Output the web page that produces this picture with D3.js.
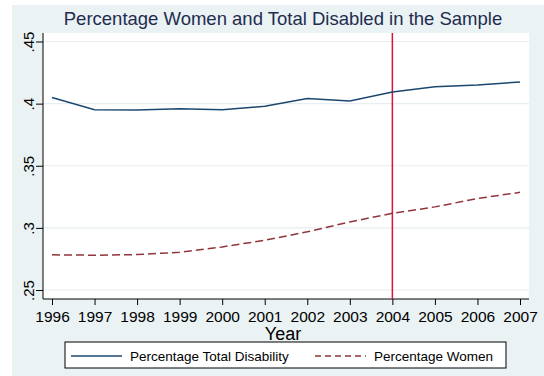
<!DOCTYPE html>
<html>
<head>
<meta charset="utf-8">
<script src="https://cdn.jsdelivr.net/npm/d3@7"></script>
<style>
  body { margin: 0; background: #fff; }
  text { font-family: "Liberation Sans", Arial, sans-serif; }
</style>
</head>
<body>
<div id="chart"></div>
<script>
// data
var years = [1996, 1997, 1998, 1999, 2000, 2001, 2002, 2003, 2004, 2005, 2006, 2007];
var totalDisability = [0.405, 0.395, 0.3949, 0.3959, 0.395, 0.3978, 0.4042, 0.4021, 0.4093, 0.4136, 0.415, 0.4174];
var women = [0.2783, 0.278, 0.2785, 0.2804, 0.2847, 0.29, 0.2968, 0.3048, 0.3117, 0.3169, 0.3236, 0.3286];
var yTicks = [0.25, 0.3, 0.35, 0.4, 0.45];
var yTickLabels = [".25", ".3", ".35", ".4", ".45"];
var markYear = 2004;

var svgWidth = 544;
var svgHeight = 376;

var plot = { left: 43, right: 529, top: 33, bottom: 299 };

var svg = d3.select("#chart")
  .append("svg")
  .attr("width", svgWidth)
  .attr("height", svgHeight);

// graph region background
svg.append("rect")
  .attr("x", 12).attr("y", 5)
  .attr("width", svgWidth - 12).attr("height", svgHeight - 5)
  .attr("fill", "#eaf2f3");

// plot region
svg.append("rect")
  .attr("x", plot.left).attr("y", plot.top)
  .attr("width", plot.right - plot.left).attr("height", plot.bottom - plot.top)
  .attr("fill", "#fff");

var x = d3.scaleLinear().domain([1996, 2007]).range([52, 520]);
var y = d3.scaleLinear().domain([0.25, 0.45]).range([290, 41.5]);

// gridlines
svg.append("g").selectAll("line")
  .data(yTicks)
  .enter()
  .append("line")
  .attr("x1", plot.left).attr("x2", plot.right)
  .attr("y1", d => y(d)).attr("y2", d => y(d))
  .attr("stroke", "#e6eef1")
  .attr("stroke-width", 1.2);

// axes
var xAxis = svg.append("g")
  .attr("transform", `translate(0, ${plot.bottom})`)
  .call(d3.axisBottom(x).tickValues(years).tickFormat(d3.format("d")).tickSize(6).tickSizeOuter(0));
xAxis.select(".domain").attr("d", `M${plot.left},0H${plot.right}`).attr("stroke", "#000");
xAxis.selectAll(".tick line").attr("stroke", "#000");
xAxis.selectAll(".tick text")
  .attr("y", 12)
  .attr("fill", "#000")
  .style("font-size", "15.5px");

var yAxis = svg.append("g")
  .attr("transform", `translate(${plot.left}, 0)`)
  .call(d3.axisLeft(y).tickValues(yTicks).tickFormat((d, i) => yTickLabels[i]).tickSize(7).tickSizeOuter(0));
yAxis.select(".domain").attr("d", `M0,${plot.top}V${plot.bottom}`).attr("stroke", "#000");
yAxis.selectAll(".tick line").attr("stroke", "#000");
yAxis.selectAll(".tick text")
  .attr("x", null).attr("dy", null)
  .attr("transform", "translate(-9,0) rotate(-90)")
  .attr("text-anchor", "middle")
  .attr("fill", "#000")
  .style("font-size", "15px");

// vertical line at 2004
svg.append("line")
  .attr("x1", x(markYear)).attr("x2", x(markYear))
  .attr("y1", plot.top).attr("y2", plot.bottom)
  .attr("stroke", "#d6143c")
  .attr("stroke-width", 1.5);

var line = d3.line()
  .x((d, i) => x(years[i]))
  .y(d => y(d));

svg.append("path")
  .datum(totalDisability)
  .attr("d", line)
  .attr("fill", "none")
  .attr("stroke", "#1a476f")
  .attr("stroke-width", 1.5);

svg.append("path")
  .datum(women)
  .attr("d", line)
  .attr("fill", "none")
  .attr("stroke", "#90353b")
  .attr("stroke-width", 1.5)
  .attr("stroke-dasharray", "8,4");

// title
svg.append("text")
  .attr("x", 283).attr("y", 25)
  .attr("text-anchor", "middle")
  .attr("fill", "#1e2c50")
  .style("font-size", "18.5px")
  .text("Percentage Women and Total Disabled in the Sample");

// x axis title
svg.append("text")
  .attr("x", 283).attr("y", 339.5)
  .attr("text-anchor", "middle")
  .attr("fill", "#000")
  .style("font-size", "18px")
  .text("Year");

// legend
var legend = svg.append("g");
legend.append("rect")
  .attr("x", 65).attr("y", 342)
  .attr("width", 441).attr("height", 26)
  .attr("fill", "#fff")
  .attr("stroke", "#000")
  .attr("stroke-width", 1);

var legendItems = [
  { label: "Percentage Total Disability", color: "#1a476f", dash: null, x: 71 },
  { label: "Percentage Women", color: "#90353b", dash: "6,4", x: 315 }
];

legendItems.forEach(function(item) {
  legend.append("line")
    .attr("x1", item.x).attr("x2", item.x + 51)
    .attr("y1", 356).attr("y2", 356)
    .attr("stroke", item.color)
    .attr("stroke-width", 1.5)
    .attr("stroke-dasharray", item.dash);
  legend.append("text")
    .attr("x", item.x + 59).attr("y", 360.5)
    .attr("fill", "#000")
    .style("font-size", "13.5px")
    .text(item.label);
});
</script>
</body>
</html>
